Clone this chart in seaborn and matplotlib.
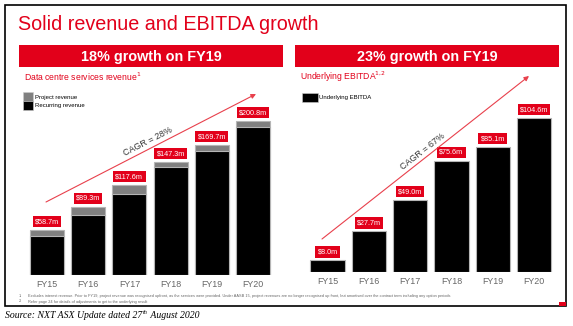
import matplotlib
matplotlib.use("Agg")
import matplotlib.pyplot as plt
import seaborn as sns
import pandas as pd
from matplotlib.patches import Rectangle

# ---------------- data ----------------
years = ["FY15", "FY16", "FY17", "FY18", "FY19", "FY20"]
revenue_total = [58.7, 89.3, 117.6, 147.3, 169.7, 200.8]
project_revenue = [7.5, 11.5, 11.5, 6.5, 7.5, 8.0]
revenue_labels = ["$58.7m", "$89.3m", "$117.6m", "$147.3m", "$169.7m", "$200.8m"]
ebitda = [8.0, 27.7, 49.0, 75.6, 85.1, 104.6]
ebitda_labels = ["$8.0m", "$27.7m", "$49.0m", "$75.6m", "$85.1m", "$104.6m"]

recurring_revenue = [t - p for t, p in zip(revenue_total, project_revenue)]
rev_df = pd.DataFrame({"year": years, "total": revenue_total, "recurring": recurring_revenue})
ebitda_df = pd.DataFrame({"year": years, "ebitda": ebitda})

# ---------------- style ----------------
sns.set_theme(style="white")
plt.rcParams["font.family"] = ["Liberation Sans", "DejaVu Sans"]

RED = "#e2001a"
GRAY = "#808080"
EDGE = "#b5b5b5"
TICK = "#666666"

W, H = 573, 326
fig = plt.figure(figsize=(W / 100, H / 100), dpi=100)
fig.patch.set_facecolor("white")


def axes_px(l, t, r, b):
    return fig.add_axes([l / W, 1 - b / H, (r - l) / W, (b - t) / H])


def style_bar_axes(ax, ymax):
    ax.set_ylim(0, ymax)
    ax.set_xlim(-0.5, 5.5)
    ax.set_xlabel("")
    ax.set_ylabel("")
    ax.set_yticks([])
    for s in ax.spines.values():
        s.set_visible(False)
    ax.tick_params(axis="x", length=0, pad=3.6, labelsize=6.4, labelcolor=TICK)
    ax.set_facecolor("none")


def add_labels(ax, values, labels):
    for i, (v, lab) in enumerate(zip(values, labels)):
        ax.annotate(lab, xy=(i, v), xytext=(0, 3.4), textcoords="offset points",
                    ha="center", va="bottom", fontsize=5.2, color="white",
                    bbox=dict(boxstyle="square,pad=0.3", fc=RED, ec="none"))


# ---------------- left chart: revenue ----------------
axL = axes_px(26.4, 275 - 220 * 0.767, 273.6, 275)
sns.barplot(data=rev_df, x="year", y="total", color=GRAY, saturation=1, width=0.83,
            edgecolor=EDGE, linewidth=0.8, ax=axL)
sns.barplot(data=rev_df, x="year", y="recurring", color="black", saturation=1, width=0.83,
            edgecolor=EDGE, linewidth=0.8, ax=axL)
style_bar_axes(axL, 220)
add_labels(axL, revenue_total, revenue_labels)

# ---------------- right chart: EBITDA ----------------
axR = axes_px(306.9, 272 - 115 * 1.472, 554.7, 272)
sns.barplot(data=ebitda_df, x="year", y="ebitda", color="black", saturation=1, width=0.83,
            edgecolor=EDGE, linewidth=0.8, ax=axR)
style_bar_axes(axR, 115)
add_labels(axR, ebitda, ebitda_labels)

# ---------------- overlay (pixel coordinates) ----------------
ov = fig.add_axes([0, 0, 1, 1], zorder=5)
ov.set_xlim(0, W)
ov.set_ylim(H, 0)
ov.axis("off")
ov.patch.set_alpha(0)

# slide border
ov.add_patch(Rectangle((5, 5), 561, 301, fill=False, ec="black", lw=1.2))
ov.add_patch(Rectangle((559, 302), 7, 4, fc=RED, ec="none"))

# title
ov.text(18, 25, "Solid revenue and EBITDA growth", color=RED, fontsize=14.2,
        ha="left", va="center")

# banners
ov.add_patch(Rectangle((19, 45), 264, 22, fc=RED, ec="none"))
ov.add_patch(Rectangle((295, 45), 264, 22, fc=RED, ec="none"))
ov.text(151, 56.5, "18% growth on FY19", color="white", fontsize=10.4, fontweight="bold",
        ha="center", va="center")
ov.text(427, 56.5, "23% growth on FY19", color="white", fontsize=10.4, fontweight="bold",
        ha="center", va="center")

# subtitles
ov.text(24, 77, "Data centre services revenue$^{1}$", color=RED, fontsize=6.2,
        ha="left", va="center")
ov.text(300, 77, "Underlying EBITDA$^{1{,}2}$", color=RED, fontsize=6.2,
        ha="left", va="center")

# legends
ov.add_patch(Rectangle((23, 92), 10, 8.5, fc=GRAY, ec="#cccccc", lw=0.4))
ov.add_patch(Rectangle((23, 100.5), 10, 9, fc="black", ec="#cccccc", lw=0.4))
ov.text(35, 97, "Project revenue", fontsize=4.3, color="black", ha="left", va="center")
ov.text(35, 106, "Recurring revenue", fontsize=4.3, color="black", ha="left", va="center")
ov.add_patch(Rectangle((302, 93), 16, 9, fc="black", ec="#cccccc", lw=0.4))
ov.text(319, 97.5, "Underlying EBITDA", fontsize=4.3, color="black", ha="left", va="center")

# CAGR arrows
arrow_kw = dict(arrowstyle="-|>", color="#e8404c", lw=0.8, mutation_scale=7,
                shrinkA=0, shrinkB=0)
ov.annotate("", xy=(256, 94), xytext=(46, 202), arrowprops=arrow_kw)
ov.annotate("", xy=(529, 76), xytext=(322, 239), arrowprops=arrow_kw)
ov.text(148, 142, "CAGR = 28%", rotation=27, rotation_mode="anchor", ha="center",
        va="center", fontsize=6.4, color="#333333")
ov.text(423, 151, "CAGR = 67%", rotation=38, rotation_mode="anchor", ha="center",
        va="center", fontsize=6.4, color="#333333")

# footnotes
fn1 = ("Excludes interest revenue. Prior to FY19, project revenue was recognised upfront, as the "
       "services were provided. Under AASB 15, project revenues are no longer recognised up front, "
       "but amortised over the contract term including any option periods")
fn2 = "Refer page 24 for details of adjustments to get to the underlying result"
ov.text(19, 296, "1.", fontsize=2.8, color=TICK, ha="left", va="center")
ov.text(28, 296, fn1, fontsize=2.8, color=TICK, ha="left", va="center")
ov.text(19, 301.5, "2.", fontsize=2.8, color=TICK, ha="left", va="center")
ov.text(28, 301.5, fn2, fontsize=2.8, color=TICK, ha="left", va="center")

# source line with superscript
src_kw = dict(family=["Liberation Serif", "DejaVu Serif"], style="italic", color="black")
r = fig.canvas.get_renderer()
t1 = ov.text(5, 316, "Source: NXT ASX Update dated 27", fontsize=7, ha="left",
             va="center", **src_kw)
bb = t1.get_window_extent(renderer=r)
x_after = bb.x1
t2 = fig.text(x_after / W, (H - 313) / H, "th", fontsize=4.5, ha="left", va="center", **src_kw)
bb2 = t2.get_window_extent(renderer=r)
fig.text((bb2.x1 + 1) / W, (H - 316) / H, " August 2020", fontsize=7, ha="left",
         va="center", **src_kw)

fig.savefig("out.png", dpi=100, facecolor="white")
